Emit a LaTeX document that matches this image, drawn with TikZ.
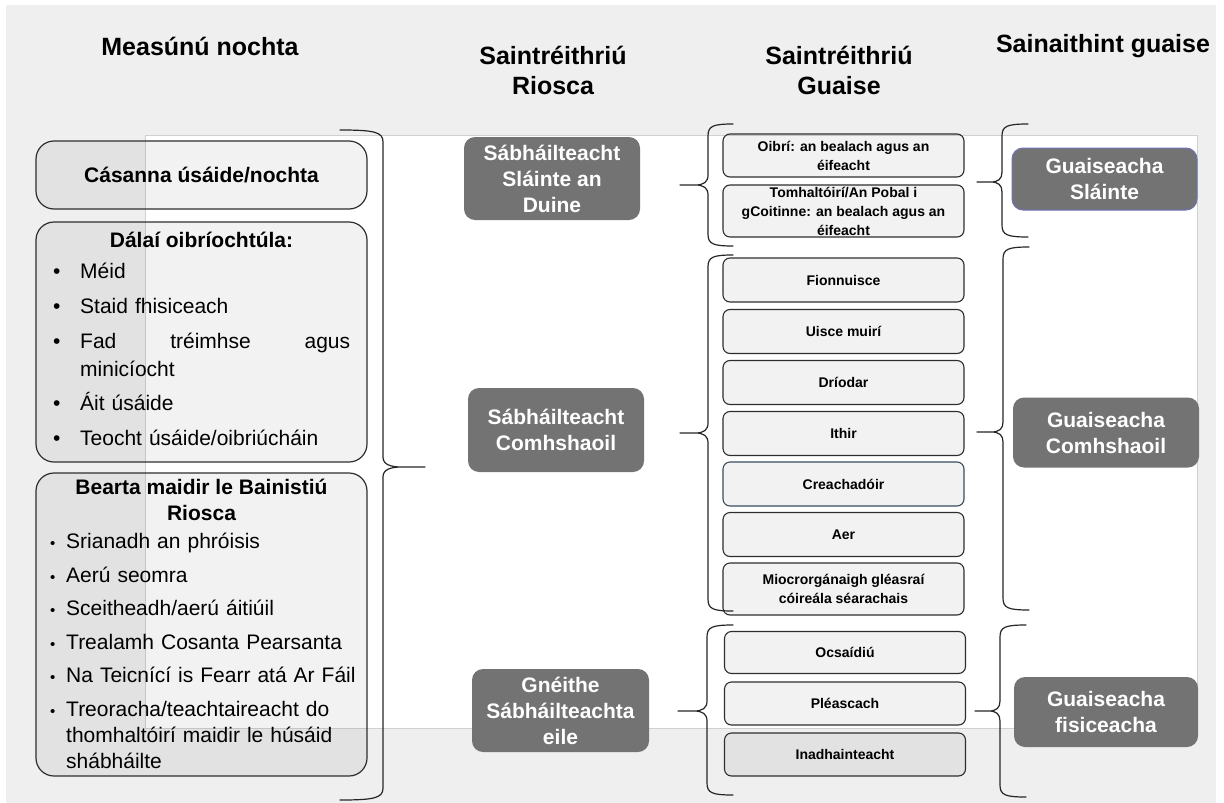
\documentclass[tikz,border=0pt]{standalone}
\usepackage{fontspec}
\setmainfont{Liberation Sans}
\usepackage{xcolor}
\usepackage{tikz}

\definecolor{bggrey}{HTML}{EFEFEF}
\definecolor{panelline}{HTML}{D0D0D0}
\definecolor{darkbox}{HTML}{737373}
\definecolor{edgeline}{HTML}{2E2E2E}
\definecolor{bluish}{HTML}{6F72B8}
\definecolor{slate}{HTML}{3A4C60}

% curly bracket: spine x, top y, bottom y, tip y, tip x, hook x
\newcommand{\gbrace}[6]{%
	\draw[brc] (#6,#2) .. controls ({#1+0.2*(#6-#1)},#2) and (#1,#2+2) .. (#1,#2+12)
		-- (#1,#4-10) .. controls (#1,#4-3) and ({#1+0.15*(#5-#1)},#4) .. ({#1+0.45*(#5-#1)},#4)
		-- (#5,#4) -- ({#1+0.45*(#5-#1)},#4)
		.. controls ({#1+0.15*(#5-#1)},#4) and (#1,#4+3) .. (#1,#4+10)
		-- (#1,#3-12) .. controls (#1,#3-2) and ({#1+0.2*(#6-#1)},#3) .. (#6,#3);
}
\newcommand{\bigblt}{\makebox[27pt][l]{\textbullet}}
\newcommand{\smlblt}{\makebox[16pt][l]{\fontsize{15}{15}\selectfont\textbullet}}

\begin{document}
\begin{tikzpicture}[x=1pt,y=-1pt,
	head/.style={font=\fontsize{25}{30}\selectfont\bfseries, align=center, inner sep=0pt},
	lbox/.style={draw=edgeline, line width=1.2pt, rounded corners=18pt, fill=black,
		fill opacity=0.05, text opacity=1, minimum width=331pt, inner sep=0pt},
	ltext/.style={font=\fontsize{21}{28}\selectfont, align=left, text width=310pt, inner sep=0pt},
	ltitle/.style={font=\fontsize{21}{26}\selectfont\bfseries, align=center, inner sep=0pt},
	dbox/.style={fill=darkbox, rounded corners=11pt, text=white, align=center, inner sep=0pt,
		font=\fontsize{21}{26}\selectfont\bfseries},
	sbox/.style={draw=edgeline, line width=1.1pt, rounded corners=7pt, fill=black,
		fill opacity=0.05, text opacity=1, minimum width=241pt, minimum height=43pt,
		inner sep=0pt, align=center, font=\fontsize{14}{19}\selectfont\bfseries},
	brc/.style={draw=black!85, line width=1.2pt, line cap=round, line join=round}]
	\useasboundingbox (0,0) rectangle (1224,803);
	\fill[bggrey] (6,5) rectangle (1216,803);
	\filldraw[fill=white, draw=panelline, line width=0.9pt] (145,135) rectangle (1197,728);
	%
	\node[head] (H1) at (200,46) {Measúnú nochta};
	\node[head] (H2) at (553,70) {Saintréithriú\\Riosca};
	\node[head] (H3) at (839,70) {Saintréithriú\\Guaise};
	\node[head] (H4) at (1103,46) {Sainaithint guaise};
	%
	\node[lbox, minimum height=68pt, font=\fontsize{21}{26}\selectfont\bfseries] (CAS) at (201.5,175) {Cásanna úsáide/nochta};
	\node[lbox, minimum height=240pt] (DAL) at (201.5,342) {};
	\node[ltitle] (DALt) at (201.5,240) {Dálaí oibríochtúla:};
	\node[ltext, anchor=north west] (DALl) at (53,263) {%
		\bigblt Méid\\[7pt]
		\bigblt Staid fhisiceach\\[7pt]
		\bigblt\makebox[270pt][l]{Fad\hfill tréimhse\hfill agus}\\
		\hspace*{27pt}minicíocht\\[6pt]
		\bigblt Áit úsáide\\[7pt]
		\bigblt Teocht úsáide/oibriúcháin};
	\node[lbox, minimum height=303pt] (BEA) at (201.5,624.5) {};
	\node[ltitle] (BEAt) at (201.5,500) {Bearta maidir le Bainistiú\\Riosca};
	\node[ltext, anchor=north west, font=\fontsize{21}{26}\selectfont] (BEAl) at (50,533) {%
		\smlblt Srianadh an phróisis\\[7.5pt]
		\smlblt Aerú seomra\\[7.5pt]
		\smlblt Sceitheadh/aerú áitiúil\\[7.5pt]
		\smlblt Trealamh Cosanta Pearsanta\\[7.5pt]
		\smlblt Na Teicnící is Fearr atá Ar Fáil\\[7.5pt]
		\smlblt Treoracha/teachtaireacht do\\
		\hspace*{16pt}thomhaltóirí maidir le húsáid\\
		\hspace*{16pt}shábháilte};
	%
	\node[dbox, minimum width=176pt, minimum height=83pt] (DUI) at (552,178.5) {Sábháilteacht\\Sláinte an\\Duine};
	\node[dbox, minimum width=176pt, minimum height=84pt] (COM) at (556,430) {Sábháilteacht\\Comhshaoil};
	\node[dbox, minimum width=177pt, minimum height=83pt] (EIL) at (560.5,710.5) {Gnéithe\\Sábháilteachta\\eile};
	%
	\node[sbox] (OIB) at (843.5,155.5) {Oibrí: an bealach agus an\\éifeacht};
	\node[sbox, minimum height=52pt] (TOM) at (843.5,211) {Tomhaltóirí/An Pobal i\\gCoitinne: an bealach agus an\\éifeacht};
	\node[sbox, minimum height=44pt] (FIO) at (843.5,280) {Fionnuisce};
	\node[sbox, minimum height=44pt] (UIS) at (843.5,331.5) {Uisce muirí};
	\node[sbox, minimum height=44pt] (DRI) at (843.5,382.5) {Dríodar};
	\node[sbox, minimum height=44pt] (ITH) at (843.5,433.5) {Ithir};
	\node[sbox, minimum height=44pt, draw=slate] (CRE) at (843.5,484) {Creachadóir};
	\node[sbox, minimum height=44pt] (AER) at (843.5,534.5) {Aer};
	\node[sbox, minimum height=52pt] (MIO) at (843.5,589) {Miocrorgánaigh gléasraí\\cóireála séarachais};
	\node[sbox, minimum height=42pt] (OCS) at (845,652.5) {Ocsaídiú};
	\node[sbox] (PLE) at (845,703.5) {Pléascach};
	\node[sbox] (INA) at (845,754.5) {Inadhainteacht};
	%
	\node[dbox, minimum width=185pt, minimum height=62pt, draw=bluish, line width=1pt] (GSL) at (1104.5,179) {Guaiseacha\\Sláinte};
	\node[dbox, minimum width=186pt, minimum height=70pt] (GCO) at (1106,432.5) {Guaiseacha\\Comhshaoil};
	\node[dbox, minimum width=184pt, minimum height=70pt] (GFI) at (1106,712) {Guaiseacha\\fisiceacha};
	%
	\gbrace{383}{130}{800}{467}{425}{340}
	\gbrace{708}{124}{246}{185}{680}{733}
	\gbrace{1002}{124}{237}{182}{977}{1028}
	\gbrace{708}{255}{611}{433}{680}{733}
	\gbrace{1003}{247}{610}{432}{977}{1029}
	\gbrace{707}{625}{795}{711}{678}{733}
	\gbrace{1000}{625}{797}{711}{975}{1026}
\end{tikzpicture}
\end{document}
